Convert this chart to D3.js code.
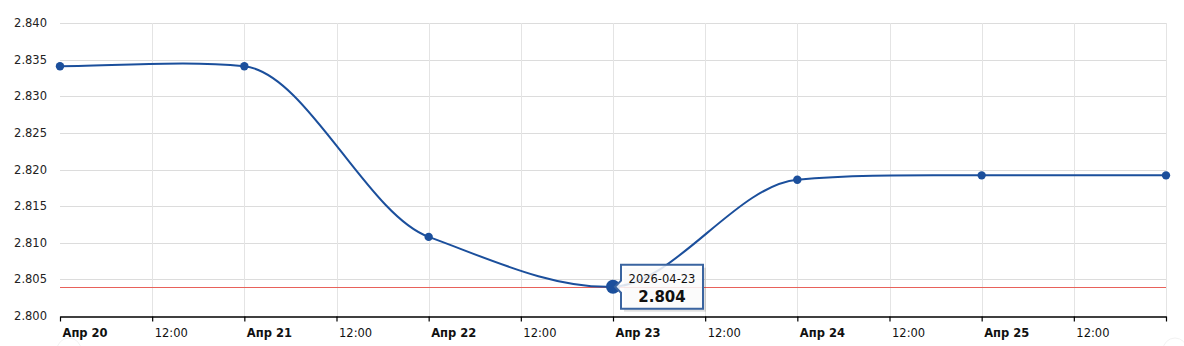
<!DOCTYPE html>
<html>
<head>
<meta charset="utf-8">
<script src="https://cdn.jsdelivr.net/npm/d3@7"></script>
<style>
  body { margin: 0; background: #fff; }
  text { font-family: "DejaVu Sans", Verdana, sans-serif; }
</style>
</head>
<body>
<div id="chart"></div>
<script>
var dates = ["2026-04-20", "2026-04-21", "2026-04-22", "2026-04-23", "2026-04-24", "2026-04-25", "2026-04-26"];
var rates = [2.8341, 2.8341, 2.8108, 2.804, 2.8186, 2.8192, 2.8192];
var yTicks = [2.800, 2.805, 2.810, 2.815, 2.820, 2.825, 2.830, 2.835, 2.840];
var months = ["Янв", "Фев", "Мар", "Апр", "Май", "Июн", "Июл", "Авг", "Сен", "Окт", "Ноя", "Дек"];
var minRate = 2.804;
var hoverIndex = 3;

var parse = d3.timeParse("%Y-%m-%d");
var data = dates.map(function (d, i) { return { date: parse(d), value: rates[i] }; });

var width = 1184, height = 346;
var plotL = 60, plotR = 1166, plotT = 23, plotB = 316;
var font = "\"DejaVu Sans\", Verdana, sans-serif";

var x = d3.scaleTime()
    .domain([data[0].date, data[data.length - 1].date])
    .range([plotL, plotR]);
var y = d3.scaleLinear().domain([2.800, 2.840]).range([plotB, plotT]);

var svg = d3.select("#chart").append("svg")
    .attr("width", width)
    .attr("height", height);

var xTicks = x.ticks(d3.timeHour.every(12));

// grid
svg.append("g").selectAll("line")
    .data(yTicks.slice(1)).enter().append("line")
    .attr("x1", plotL).attr("x2", plotR)
    .attr("y1", d => Math.round(y(d)) + 0.5).attr("y2", d => Math.round(y(d)) + 0.5)
    .attr("stroke", "#dcdcdc");
svg.append("g").selectAll("line")
    .data(xTicks.slice(1)).enter().append("line")
    .attr("x1", d => Math.round(x(d)) + 0.5).attr("x2", d => Math.round(x(d)) + 0.5)
    .attr("y1", plotT).attr("y2", plotB)
    .attr("stroke", "#e4e4e4");

// y labels
svg.append("g").selectAll("text")
    .data(yTicks).enter().append("text")
    .attr("x", 47).attr("y", d => y(d) + 4)
    .attr("text-anchor", "end")
    .attr("font-size", 11.5)
    .attr("fill", "#222")
    .text(d3.format(".3f"));

// x axis
var xAxis = svg.append("g")
    .attr("transform", "translate(0," + (plotB + 0.5) + ")")
    .call(d3.axisBottom(x).tickValues(xTicks).tickSize(5).tickSizeOuter(0).tickFormat(function (d) {
        return d.getHours() === 0 ? months[d.getMonth()] + " " + d.getDate() : "12:00";
    }));
xAxis.attr("font-size", 11.5).attr("font-family", font);
xAxis.select(".domain").attr("stroke", "#000").attr("stroke-width", 1.5);
xAxis.selectAll(".tick line").attr("stroke", "#000").attr("stroke-width", 1.2);
xAxis.selectAll(".tick text")
    .attr("fill", "#111")
    .attr("dy", "1.05em")
    .attr("dx", 2)
    .attr("text-anchor", "start")
    .attr("font-weight", d => d.getHours() === 0 ? "bold" : "normal")
    .style("display", (d, i) => i === xTicks.length - 1 ? "none" : null);

// min line (a 1px rect in red)
svg.append("rect")
    .attr("x", plotL).attr("width", plotR - plotL)
    .attr("y", Math.round(y(minRate))).attr("height", 1)
    .attr("fill", "#e8615a");

// smoothed line: cubic segments, tangents mixed from the neighbouring slopes
function smoothPath(pts) {
    var n = pts.length, s = [], m = [];
    for (var i = 0; i < n - 1; i++) s.push((pts[i + 1][1] - pts[i][1]) / (pts[i + 1][0] - pts[i][0]));
    for (var i = 0; i < n; i++) {
        if (i === 0 || i === n - 1) { m.push(0); continue; }
        var a = s[i - 1], b = s[i];
        var harm = a * b > 0 ? 2 * a * b / (a + b) : 0;
        var central = (pts[i + 1][1] - pts[i - 1][1]) / (pts[i + 1][0] - pts[i - 1][0]);
        m.push(0.55 * harm + 0.22 * central);
    }
    var p = d3.path();
    p.moveTo(pts[0][0], pts[0][1]);
    for (var i = 0; i < n - 1; i++) {
        var h = (pts[i + 1][0] - pts[i][0]) / 3;
        p.bezierCurveTo(pts[i][0] + h, pts[i][1] + m[i] * h,
            pts[i + 1][0] - h, pts[i + 1][1] - m[i + 1] * h,
            pts[i + 1][0], pts[i + 1][1]);
    }
    return p.toString();
}

svg.append("path")
    .attr("d", smoothPath(data.map(d => [x(d.date), y(d.value)])))
    .attr("fill", "none")
    .attr("stroke", "#1b4f9c")
    .attr("stroke-width", 2);

svg.append("g").selectAll("circle")
    .data(data).enter().append("circle")
    .attr("cx", d => x(d.date))
    .attr("cy", d => y(d.value))
    .attr("r", (d, i) => i === hoverIndex ? 7 : 4.2)
    .attr("fill", "#1b4f9c");

// faint scroll markers
svg.append("g").selectAll("circle")
    .data([data[0].date, data[data.length - 1].date]).enter().append("circle")
    .attr("cx", d => x(d) + 9).attr("cy", 350)
    .attr("r", 12)
    .attr("fill", "none")
    .attr("stroke", "#f2f2f2");

// tooltip
var hp = data[hoverIndex];
var tx = x(hp.date) + 8, ty = y(hp.value) - 22;
var tw = 82, th = 44;
var tip = svg.append("g");
tip.append("rect")
    .attr("x", tx + 3).attr("y", ty + 3)
    .attr("width", tw).attr("height", th)
    .attr("fill", "#000").attr("opacity", 0.12);
tip.append("path")
    .attr("d", "M" + tx + "," + ty + "h" + tw + "v" + th + "h" + (-tw) +
        "v" + (-(th / 2 - 6)) + "l-6,-6l6,-6z")
    .attr("fill", "rgba(255,255,255,0.85)")
    .attr("stroke", "#3a64a0")
    .attr("stroke-width", 2);
tip.append("text")
    .attr("x", tx + tw / 2).attr("y", ty + 18)
    .attr("text-anchor", "middle")
    .attr("font-size", 11.5)
    .attr("fill", "#111")
    .text(d3.timeFormat("%Y-%m-%d")(hp.date));
tip.append("text")
    .attr("x", tx + tw / 2).attr("y", ty + 37)
    .attr("text-anchor", "middle")
    .attr("font-size", 15)
    .attr("font-weight", "bold")
    .attr("fill", "#111")
    .text(d3.format(".3f")(hp.value));
</script>
</body>
</html>
